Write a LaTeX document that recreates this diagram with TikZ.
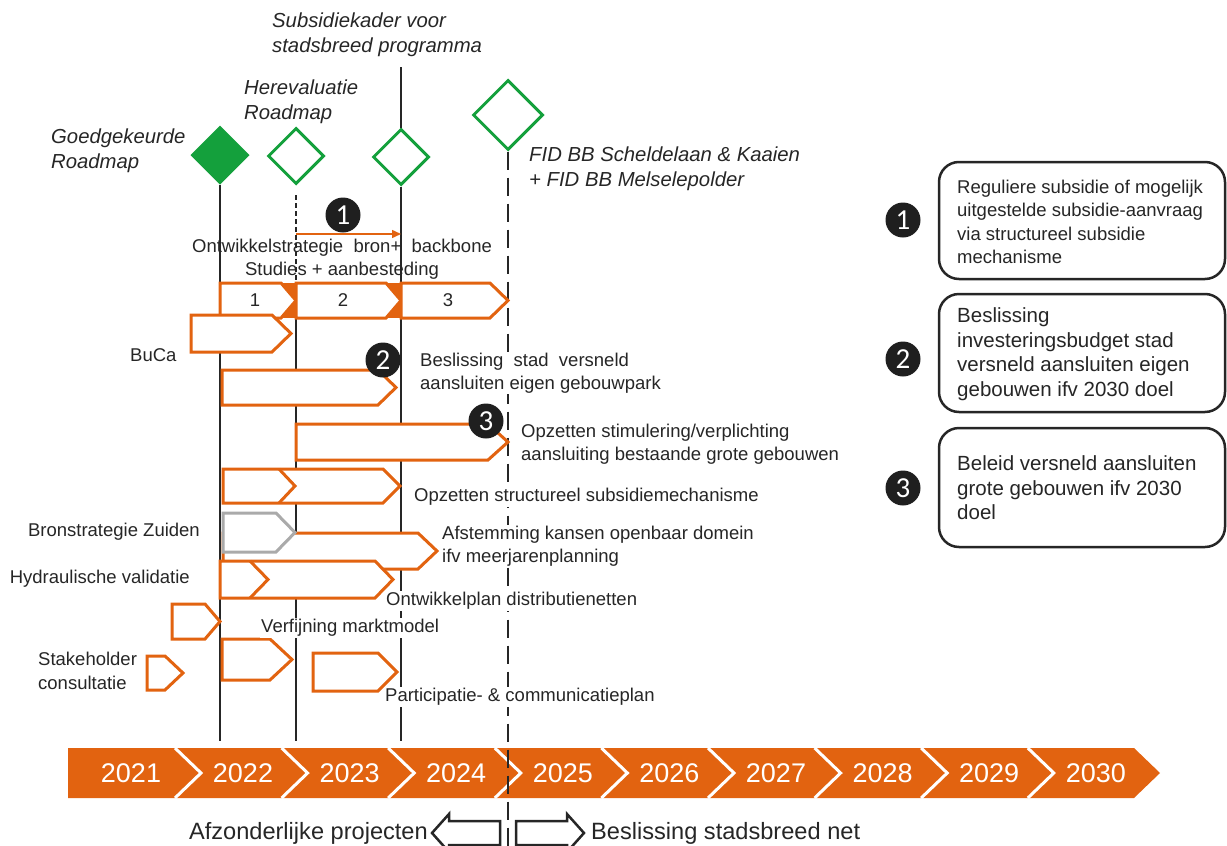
\documentclass[tikz,border=0pt]{standalone}
\usepackage{fontspec}
\setmainfont{Liberation Sans}
\newfontfamily\numfont{Carlito}
\usetikzlibrary{shapes.geometric,arrows.meta}
\definecolor{orng}{RGB}{226,99,16}
\definecolor{grn}{RGB}{20,160,60}
\definecolor{ink}{RGB}{38,38,38}
\definecolor{greybox}{RGB}{170,170,170}

% pentagon shaped task bar: [style]{left x}{top y}{tip x}{bottom y}{notch}
\newcommand{\pentbox}[6][obox]{%
  \draw[#1] (#2,#3) -- ({#4-#6},#3) -- (#4,{(#3+#5)/2}) -- ({#4-#6},#5) -- (#2,#5) -- cycle;}
% chevron stroke inside a bar: {shoulder x}{top y}{tip x}{bottom y}
\newcommand{\chevstroke}[4]{%
  \draw[draw=orng,line width=3pt,line join=miter] (#1,#2) -- (#3,{(#2+#4)/2}) -- (#1,#4);}

\begin{document}
\begin{tikzpicture}[x=1pt,y=-1pt,
  lbl/.style={font=\fontsize{18.5}{23.5}\selectfont, text=ink, inner sep=1pt, align=left},
  lblw/.style={lbl, fill=white},
  lblbig/.style={lbl, font=\fontsize{20.5}{24.5}\selectfont},
  ital/.style={lbl, font=\fontsize{20.3}{25}\selectfont\itshape},
  bottomtxt/.style={lbl, font=\fontsize{23.6}{26}\selectfont},
  yeartxt/.style={font=\fontsize{27}{27}\selectfont, text=white, inner sep=0pt},
  obox/.style={draw=orng, line width=3pt, fill=white, line join=miter},
  gbox/.style={obox, draw=greybox},
  ms/.style={diamond, draw=grn, line width=3pt, fill=white, inner sep=0pt,
             minimum width=#1, minimum height=#1},
  ms/.default=56,
  vline/.style={draw=ink, line width=1.4pt},
  numdot/.style={circle, fill=black!88, text=white, inner sep=0pt, minimum size=35pt,
                 font=\numfont\fontsize{29}{29}\selectfont},
  notebox/.style={draw=ink, line width=2.5pt, rounded corners=20pt, fill=white},
  hollowarrow/.style={draw=ink, line width=2.5pt, fill=white, line join=miter}
]
\useasboundingbox (0,0) rectangle (1227,846);

% ---------- milestones ----------
\node[ms, fill=grn] (m1) at (220,155) {};
\node[ms] (m2) at (296,156) {};
\node[ms] (m3) at (401,157) {};
\node[ms=70] (m4) at (508,115) {};

\coordinate (t401) at (401,67);
\coordinate (e220) at (220,741);
\coordinate (d296a) at (296,195);
\coordinate (d296b) at (296,283);
\coordinate (e296) at (296,741);
\coordinate (e401) at (401,741);
\coordinate (e508) at (508,846);

% time lines
\draw[vline] (m1.south) -- (e220);
\draw[ink, line width=1.3pt, dash pattern=on 5pt off 3pt] (d296a) -- (d296b);
\draw[vline] (d296b) -- (e296);
\draw[vline] (t401) -- (m3.north);
\draw[vline] (m3.south) -- (e401);

% milestone labels
\node[ital, anchor=west] (lsub) at (271,35) {Subsidiekader voor\\stadsbreed programma};
\node[ital, anchor=west] (lher) at (243,102) {Herevaluatie\\Roadmap};
\node[ital, anchor=west] (lgoed) at (50,151) {Goedgekeurde\\Roadmap};
\node[ital, anchor=west] (lfid) at (528,169) {FID BB Scheldelaan \& Kaaien\\+ FID BB Melselepolder};

% ---------- year band ----------
\fill[orng] (68,748) -- (1134,748) -- (1160,773) -- (1134,798) -- (68,798) -- cycle;
\foreach \k in {0,...,8}{
  \pgfmathsetmacro\xs{175+106.6*\k}
  \draw[white, line width=3pt] (\xs,748) -- ({\xs+26},773) -- (\xs,798);
}
\foreach \xx/\yr in {131/2021, 243/2022, 349.6/2023, 456.2/2024, 562.8/2025,
                     669.4/2026, 776/2027, 882.6/2028, 989.2/2029, 1095.8/2030}
  \node[yeartxt] (y\yr) at (\xx,773) {\yr};

% separation between separate projects and city-wide decision
\draw[ink, line width=2.5pt, dash pattern=on 18pt off 8pt] (m4.south) -- (e508);

% ---------- task bars ----------
% studies + tendering in three phases
\fill[orng] (281,283) rectangle (296,318);
\fill[orng] (386,283) rectangle (401,318);
\pentbox{220}{283}{296}{318}{15}
\pentbox{296}{283}{401}{318}{15}
\pentbox{401}{283}{508}{318}{18}
\node[lbl] (ph1) at (255,300) {1};
\node[lbl] (ph2) at (343,300) {2};
\node[lbl] (ph3) at (448,300) {3};

% BuCa
\pentbox{191}{315}{291}{352}{19}
% decision city own buildings
\pentbox{222}{370}{396}{405}{18}
% stimulation / obligation
\pentbox{296}{424}{508}{460}{20}
% structural subsidy mechanism
\pentbox{223}{469}{400}{503}{17}
\chevstroke{279}{469}{295}{503}
% public domain alignment, source strategy south
\pentbox{223}{533}{437}{569}{19}
\pentbox[gbox]{223}{513}{295}{552}{19}
% hydraulic validation
\pentbox{220}{561}{393}{598}{18}
\chevstroke{250}{561}{268}{598}
% market model refinement
\pentbox{172}{604}{220}{639}{15}
\pentbox{222}{639}{292}{680}{22}
% stakeholder consultation
\pentbox{147}{656}{183}{690}{18}
% participation plan
\pentbox{313}{653}{397}{691}{19}

% phase 1 period arrow
\coordinate (a1s) at (296,234);
\coordinate (a1e) at (401,234);
\draw[orng, line width=1.5pt, -{Triangle[length=9pt,width=8pt]}] (a1s) -- (a1e);

% ---------- task labels ----------
\node[lbl, align=center] (lstrat) at (342,259) {Ontwikkelstrategie\ \ bron+\ \ backbone\\Studies + aanbesteding};
\node[lbl, anchor=west] (lbuca) at (129,355) {BuCa};
\node[lblw, anchor=west] (lbes) at (419,373) {Beslissing\ \ stad\ \ versneld\\aansluiten eigen gebouwpark};
\node[lbl, anchor=west] (lstim) at (520,444) {Opzetten stimulering/verplichting\\aansluiting bestaande grote gebouwen};
\node[lblw, anchor=west] (lstruc) at (413,497) {Opzetten structureel subsidiemechanisme};
\node[lbl, anchor=east] (lbron) at (201,532) {Bronstrategie Zuiden};
\node[lblw, anchor=west] (lafst) at (441,546) {Afstemming kansen openbaar domein\\ifv meerjarenplanning};
\node[lbl, anchor=east] (lhydr) at (191,579) {Hydraulische validatie};
\node[lblw, anchor=west] (lontw) at (385,601) {Ontwikkelplan distributienetten};
\node[lblw, anchor=west] (lverf) at (260,628) {Verfijning marktmodel};
\node[lbl, anchor=west] (lstak) at (37,671) {Stakeholder\\consultatie};
\node[lblw, anchor=west] (lpart) at (384,697) {Participatie- \& communicatieplan};

% ---------- numbered markers on the timeline ----------
\node[numdot] (n1) at (343,215) {1};
\node[numdot] (n2) at (383,360) {2};
\node[numdot] (n3) at (486,421) {3};

% ---------- legend ----------
\node[numdot] (k1) at (903,220) {1};
\node[numdot] (k2) at (903,359) {2};
\node[numdot] (k3) at (903,488) {3};
\draw[notebox] (939,162) rectangle (1225,279);
\draw[notebox] (939,294) rectangle (1225,412);
\draw[notebox] (939,428) rectangle (1225,547);
\node[lbl, anchor=west] (k1t) at (956,222) {Reguliere subsidie of mogelijk\\uitgestelde subsidie-aanvraag\\via structureel subsidie\\mechanisme};
\node[lblbig, anchor=west] (k2t) at (956,354) {Beslissing\\investeringsbudget stad\\versneld aansluiten eigen\\gebouwen ifv 2030 doel};
\node[lblbig, anchor=west] (k3t) at (956,488) {Beleid versneld aansluiten\\grote gebouwen ifv 2030\\doel};

% ---------- bottom: separate projects vs city-wide network ----------
\draw[hollowarrow] (432,833) -- (449,814) -- (449,821) -- (500,821) -- (500,845)
  -- (449,845) -- (449,852) -- cycle;
\draw[hollowarrow] (584,833) -- (567,814) -- (567,821) -- (516,821) -- (516,845)
  -- (567,845) -- (567,852) -- cycle;
\node[bottomtxt, anchor=east] (lafz) at (429,833) {Afzonderlijke projecten};
\node[bottomtxt, anchor=west] (lstb) at (590,833) {Beslissing stadsbreed net};
\end{tikzpicture}
\end{document}
